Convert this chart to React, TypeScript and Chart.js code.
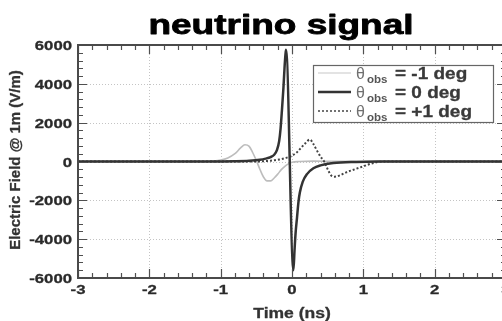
import React, { useEffect, useRef } from "react";
import { Chart, registerables } from "chart.js";

Chart.register(...registerables);

// ---- data ----
const TITLE = "neutrino signal";
const X_TITLE = "Time (ns)";
const Y_TITLE = "Electric Field @ 1m (V/m)";

const X_TICKS = [-3, -2, -1, 0, 1, 2, 3];
const Y_TICKS = [-6000, -4000, -2000, 0, 2000, 4000, 6000];

const LEGEND_VALUES = ["= -1 deg", "= 0 deg", "= +1 deg"];

// theta_obs = 0 deg
const TIME_0 = [-3, -1.2, -0.8, -0.6, -0.45, -0.37, -0.3, -0.25, -0.21, -0.18, -0.16, -0.14, -0.12, -0.105, -0.092, -0.084, 0.02, 0.035, 0.05, 0.07, 0.09, 0.11, 0.15, 0.21, 0.3, 0.4, 0.58, 0.9, 1.2, 3];
const FIELD_0 = [0, 0, 15, 40, 90, 150, 230, 350, 600, 1050, 1700, 2700, 3800, 4800, 5500, 5750, -5600, -4600, -3700, -2900, -2100, -1600, -1050, -650, -350, -200, -80, -20, 0, 0];

// theta_obs = -1 deg
const TIME_M1 = [-3, -1.2, -1.1, -1.0, -0.9, -0.8, -0.72, -0.66, -0.6, -0.55, -0.5, -0.45, -0.4, -0.35, -0.3, -0.25, -0.2, -0.15, -0.1, -0.05, 0, 0.1, 0.3, 0.6, 1.0, 3];
const FIELD_M1 = [0, 0, 20, 70, 180, 400, 700, 860, 780, 450, 50, -400, -800, -1000, -1000, -850, -650, -420, -250, -120, -40, 0, 20, 10, 0, 0];

// theta_obs = +1 deg
const TIME_P1 = [-3, -0.5, -0.3, -0.18, -0.1, 0, 0.07, 0.13, 0.19, 0.25, 0.3, 0.35, 0.4, 0.45, 0.5, 0.55, 0.6, 0.68, 0.76, 0.88, 0.99, 1.1, 1.2, 1.3, 3];
const FIELD_P1 = [0, 0, 40, 100, 170, 300, 480, 720, 950, 1130, 900, 560, 250, 0, -400, -720, -780, -700, -560, -400, -260, -120, -30, 0, 0];

const FONT = "'Liberation Sans', Arial, sans-serif";

function txt(ctx: CanvasRenderingContext2D, s: string, x: number, y: number, font: string, sx: number, align: CanvasTextAlign, color: string, rot = 0, stroke = 0) {
  ctx.save();
  ctx.translate(x, y);
  if (rot) ctx.rotate(rot);
  ctx.scale(sx, 1);
  ctx.font = font;
  ctx.fillStyle = color;
  ctx.textAlign = align;
  ctx.textBaseline = "alphabetic";
  ctx.fillText(s, 0, 0);
  if (stroke > 0) {
    ctx.strokeStyle = color;
    ctx.lineWidth = stroke;
    ctx.lineJoin = "round";
    ctx.strokeText(s, 0, 0);
  }
  ctx.restore();
}

const decorPlugin = {
  id: "decor",
  beforeDatasetsDraw(chart: any) {
    const { ctx, chartArea: a, scales } = chart;
    const xs = scales.x, ys = scales.y;
    ctx.save();
    ctx.strokeStyle = "#c4c4c4";
    ctx.lineWidth = 1;
    ctx.setLineDash([1, 2]);
    X_TICKS.forEach((v) => {
      const px = Math.round(xs.getPixelForValue(v)) + 0.5;
      if (px <= a.left + 2 || px >= a.right - 2) return;
      ctx.beginPath(); ctx.moveTo(px, a.top); ctx.lineTo(px, a.bottom); ctx.stroke();
    });
    Y_TICKS.forEach((v) => {
      const py = Math.round(ys.getPixelForValue(v)) + 0.5;
      if (py <= a.top + 2 || py >= a.bottom - 2) return;
      ctx.beginPath(); ctx.moveTo(a.left, py); ctx.lineTo(a.right, py); ctx.stroke();
    });
    ctx.restore();
  },
  afterDatasetsDraw(chart: any) {
    const { ctx, chartArea: a, scales } = chart;
    const xs = scales.x, ys = scales.y;
    ctx.save();
    // minor + major ticks, inward on all four sides
    ctx.strokeStyle = "#505050";
    ctx.lineWidth = 1.2;
    ctx.setLineDash([]);
    for (let i = 0; i < X_TICKS.length - 1; i++) {
      for (let k = 0; k < 5; k++) {
        const v = X_TICKS[i] + ((X_TICKS[i + 1] - X_TICKS[i]) * k) / 5;
        const len = k === 0 ? 9 : 5;
        const px = Math.round(xs.getPixelForValue(v)) + 0.5;
        ctx.beginPath();
        ctx.moveTo(px, a.bottom); ctx.lineTo(px, a.bottom - len);
        ctx.moveTo(px, a.top); ctx.lineTo(px, a.top + len);
        ctx.stroke();
      }
    }
    for (let i = 0; i < Y_TICKS.length - 1; i++) {
      for (let k = 0; k < 5; k++) {
        const v = Y_TICKS[i] + ((Y_TICKS[i + 1] - Y_TICKS[i]) * k) / 5;
        const len = k === 0 ? 9 : 5;
        const py = Math.round(ys.getPixelForValue(v)) + 0.5;
        ctx.beginPath();
        ctx.moveTo(a.left, py); ctx.lineTo(a.left + len, py);
        ctx.moveTo(a.right, py); ctx.lineTo(a.right - len, py);
        ctx.stroke();
      }
    }
    // frame
    ctx.strokeStyle = "#4a4a4a";
    ctx.lineWidth = 2;
    ctx.strokeRect(a.left, a.top, a.right - a.left, a.bottom - a.top);

    // tick labels
    const tickFont = `bold 13.5px ${FONT}`;
    Y_TICKS.forEach((v) => {
      const py = ys.getPixelForValue(v);
      txt(ctx, String(v), 72, py + 5, tickFont, 1.24, "right", "#2a2a2a", 0, 0.3);
    });
    X_TICKS.forEach((v) => {
      const px = xs.getPixelForValue(v);
      txt(ctx, String(v), px, 294, tickFont, 1.24, "center", "#2a2a2a", 0, 0.3);
    });

    // titles
    txt(ctx, TITLE, 281, 34, `bold 27px ${FONT}`, 1.37, "center", "#000", 0, 0.8);
    txt(ctx, X_TITLE, 292, 318, `bold 14px ${FONT}`, 1.25, "center", "#333", 0, 0.3);
    txt(ctx, Y_TITLE, 20, 160, `bold 15px ${FONT}`, 1.0, "center", "#333", -Math.PI / 2, 0.3);

    // legend
    const lx = 313, ly = 65, lw = 180, lh = 57;
    ctx.fillStyle = "#fff";
    ctx.fillRect(lx, ly, lw, lh);
    ctx.strokeStyle = "#666";
    ctx.lineWidth = 1.2;
    ctx.strokeRect(lx + 0.5, ly + 0.5, lw, lh);
    const rows = [
      { color: "#c8c8c8", width: 1.2, dash: [] as number[] },
      { color: "#333", width: 2.5, dash: [] as number[] },
      { color: "#444", width: 1.6, dash: [2, 2] },
    ];
    const baselines = [79, 98, 117];
    rows.forEach((r, i) => {
      const b = baselines[i];
      ctx.save();
      ctx.strokeStyle = r.color;
      ctx.lineWidth = r.width;
      ctx.setLineDash(r.dash);
      ctx.beginPath(); ctx.moveTo(318, b - 6); ctx.lineTo(351, b - 6); ctx.stroke();
      ctx.restore();
      txt(ctx, "\u03B8", 356, b, `16px ${FONT}`, 1.0, "left", "#707070");
      txt(ctx, "obs", 367, b + 4, `bold 10.5px ${FONT}`, 1.1, "left", "#555");
      txt(ctx, LEGEND_VALUES[i], 395, b, `bold 16.5px ${FONT}`, 1.15, "left", "#3a3a3a", 0, 0.3);
    });
    ctx.restore();
  },
};

export default function App() {
  const ref = useRef<HTMLCanvasElement | null>(null);
  useEffect(() => {
    if (!ref.current) return;
    const pts = (t: number[], f: number[]) => t.map((x, i) => ({ x, y: f[i] }));
    const chart = new Chart(ref.current, {
      type: "line",
      data: {
        datasets: [
          { label: "0 deg", data: pts(TIME_0, FIELD_0), borderColor: "#333", borderWidth: 2.5, pointRadius: 0, fill: false, cubicInterpolationMode: "monotone" },
          { label: "+1 deg", data: pts(TIME_P1, FIELD_P1), borderColor: "#444", borderWidth: 2, borderDash: [2, 2], pointRadius: 0, fill: false, cubicInterpolationMode: "monotone" },
          { label: "-1 deg", data: pts(TIME_M1, FIELD_M1), borderColor: "#bdbdbd", borderWidth: 1.6, pointRadius: 0, fill: false, cubicInterpolationMode: "monotone" },
        ],
      },
      options: {
        responsive: true,
        maintainAspectRatio: false,
        animation: false,
        layout: { padding: { left: 78, right: 6, top: 45, bottom: 43 } },
        scales: {
          x: { type: "linear", min: -3, max: 3, display: false },
          y: { type: "linear", min: -6000, max: 6000, display: false },
        },
        plugins: { legend: { display: false }, tooltip: { enabled: false }, title: { display: false } },
      },
      plugins: [decorPlugin],
    } as any);
    return () => chart.destroy();
  }, []);
  return (
    <div style={{ position: "fixed", left: 0, top: 0, width: 502, height: 321, overflow: "hidden", background: "#fff" }}>
      <div style={{ position: "relative", width: 512, height: 321 }}>
        <canvas ref={ref} />
      </div>
    </div>
  );
}
